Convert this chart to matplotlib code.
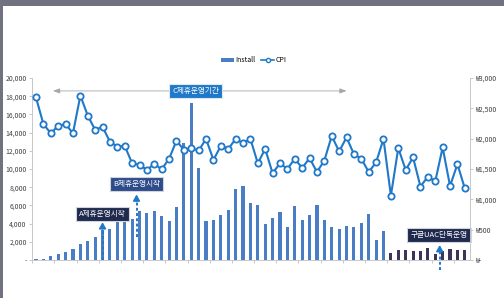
import numpy as np
import matplotlib.pyplot as plt
from matplotlib.patches import Rectangle, Patch
from matplotlib.lines import Line2D
from matplotlib.ticker import FuncFormatter, FixedLocator

plt.rcParams['font.family'] = ['Noto Sans CJK KR', 'DejaVu Sans']

# monthly installs (bars) and CPI (line)
install = [100, 100, 450, 650, 850, 1170, 1780, 2080, 2480, 3300,
           3460, 4300, 4550, 4520, 5420, 5210, 5350, 4800, 4240, 5850,
           12830, 17200, 10130, 4300, 4380, 5000, 5480, 7750, 8180, 6270,
           6090, 3940, 4660, 5280, 3640, 5980, 4370, 4900, 6000, 4370,
           3640, 3390, 3790, 3640, 4120, 5030, 2190, 3210,
           730, 1090, 1090, 950, 950, 1350, 660, 1020, 1240, 1090, 1090]
cpi = [2680, 2240, 2090, 2210, 2240, 2090, 2710, 2380, 2145, 2195,
       1950, 1870, 1880, 1595, 1570, 1485, 1585, 1495, 1670, 1965,
       1815, 1840, 1805, 1995, 1650, 1880, 1830, 1995, 1925, 1995,
       1595, 1830, 1430, 1595, 1500, 1670, 1515, 1680, 1450, 1640,
       2045, 1790, 2020, 1745, 1670, 1450, 1610, 1995,
       1060, 1845, 1485, 1690, 1210, 1375, 1295, 1855, 1220, 1580, 1180]
n_partner = 48  # months before Google UAC-only period

x = np.arange(len(install))
bar_colors = ['#4A7EC4'] * n_partner + ['#3D3458'] * (len(install) - n_partner)

fig = plt.figure(figsize=(5.04, 2.98), dpi=100, facecolor='#70727f')
fig.patches.append(Rectangle((2.5 / 504, 0), 1, 1 - 6 / 298, transform=fig.transFigure,
                             facecolor='white', edgecolor='none', zorder=-5))

ax = fig.add_axes([32.3 / 504, 1 - 260 / 298, (470 - 32.3) / 504, (260 - 78) / 298])
ax.patch.set_alpha(0)
ax.bar(x, install, width=0.42, color=bar_colors, zorder=2)
ax.set_xlim(-0.5, 58.7)
ax.set_ylim(0, 20000)
ax.set_yticks(range(0, 20001, 2000))
ax.yaxis.set_major_formatter(FuncFormatter(lambda v, p: '-' if v == 0 else f'{int(v):,}'))
ax.xaxis.set_major_locator(FixedLocator(np.arange(-0.5, 58, 3)))
ax.set_xticklabels([])
ax.tick_params(axis='both', labelsize=5, colors='#bfbfbf', labelcolor='#404040', length=2, width=0.6, pad=2)
for s in ['top', 'right']:
    ax.spines[s].set_visible(False)
for s in ['left', 'bottom']:
    ax.spines[s].set_color('#c8c8c8')
    ax.spines[s].set_linewidth(0.7)

ax2 = ax.twinx()
ax2.plot(x, cpi, color='#1F78C8', lw=1.5, marker='o', markersize=4.5,
         markerfacecolor='white', markeredgecolor='#1F78C8', markeredgewidth=1.3, zorder=3)
ax2.set_ylim(0, 3000)
ax2.set_yticks(range(0, 3001, 500))
ax2.yaxis.set_major_formatter(FuncFormatter(lambda v, p: '₩-' if v == 0 else f'₩{int(v):,}'))
ax2.tick_params(axis='y', labelsize=5, colors='#bfbfbf', labelcolor='#404040', length=2, width=0.6, pad=2)
for s in ['top', 'left', 'bottom']:
    ax2.spines[s].set_visible(False)
ax2.spines['right'].set_color('#c8c8c8')
ax2.spines['right'].set_linewidth(0.7)

# C partnership period arrow
ax.annotate('', xy=(2.3, 18580), xytext=(42.0, 18580),
            arrowprops=dict(arrowstyle='<|-|>,head_length=0.4,head_width=0.15',
                            color='#a6a6a6', lw=0.6, shrinkA=0, shrinkB=0))
box_kw = dict(fontsize=5.5, color='white', ha='center', va='center', zorder=6)
ax.text(21.6, 18580, 'C제휴운영기간',
        bbox=dict(boxstyle='square,pad=0.4', fc='#1F78C8', ec='#dce9f5', lw=0.8), **box_kw)

# dashed pointer arrows
arrow_c = '#1F78C8'
def pointer(xp, y0, y1, clip=True):
    ax.plot([xp, xp], [y0, y1 - 500], ls=(0, (1.5, 1.2)), color=arrow_c, lw=1.4,
            zorder=4, clip_on=clip)
    ax.annotate('', xy=(xp, y1), xytext=(xp, y1 - 700),
                arrowprops=dict(arrowstyle='-|>,head_length=0.35,head_width=0.2',
                                color=arrow_c, lw=1.2, shrinkA=0, shrinkB=0), zorder=5)

pointer(9.0, 0, 4150)
ax.text(9.0, 5080, 'A제휴운영시작',
        bbox=dict(boxstyle='square,pad=0.4', fc='#1F2A4E', ec='#d0d4de', lw=0.8), **box_kw)

pointer(13.6, 2550, 7200)
ax.text(13.6, 8360, 'B제휴운영시작',
        bbox=dict(boxstyle='square,pad=0.4', fc='#2E4C8A', ec='#d0d4de', lw=0.8), **box_kw)

pointer(54.6, -1100, 1640, clip=False)
ax.text(54.5, 2790, '구글UAC단독운영',
        bbox=dict(boxstyle='square,pad=0.4', fc='#1F2A4E', ec='#d0d4de', lw=0.8), **box_kw)

handles = [Patch(facecolor='#4A7EC4'),
           Line2D([], [], color='#1F78C8', lw=1.2, marker='o', markersize=3,
                  markerfacecolor='white', markeredgewidth=1)]
fig.legend(handles, ['Install', 'CPI'], loc='center', bbox_to_anchor=(254 / 504, 1 - 60 / 298),
           ncol=2, frameon=False, fontsize=5, handlelength=1.8, handleheight=0.5,
           columnspacing=0.8, handletextpad=0.3)

fig.savefig('out.png', dpi=100, facecolor=fig.get_facecolor())
